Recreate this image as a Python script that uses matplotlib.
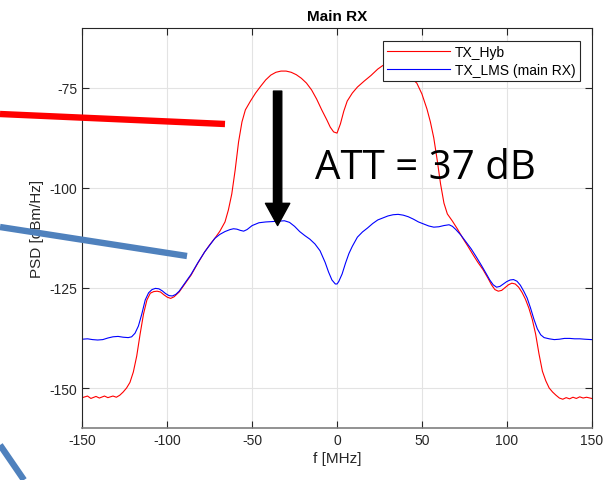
import matplotlib
matplotlib.use("Agg")
import matplotlib.pyplot as plt
from matplotlib.lines import Line2D

# PSD curves (f in MHz, PSD in dBm/Hz)
f_hyb = [-150, -147, -145, -142, -140, -137, -135, -132, -130, -128, -126, -124,
         -122, -120, -118, -116, -114, -112, -110, -108, -106, -104, -102, -100,
         -98, -96, -93, -90, -86, -82, -78, -75, -72, -69, -66, -64, -62, -60,
         -58, -56, -54, -51, -48, -45, -42, -39, -36, -33, -30, -27, -24, -21,
         -18, -15, -12, -9, -6, -4, -2, 0, 2, 4, 6, 9, 12, 16, 20, 24, 27, 30,
         33, 36, 40, 44, 47, 50, 53, 55, 57, 59, 61, 63, 65, 68, 71, 74, 77, 80,
         83, 86, 89, 91, 93, 95, 97, 99, 101, 103, 105, 107, 109, 111, 113, 115,
         117, 119, 121, 123, 125, 127, 129, 131, 133, 135, 137, 139, 141, 143,
         145, 147, 150]
psd_hyb = [-152.4, -152.0, -152.6, -152.1, -152.5, -152.0, -152.4, -152.0, -152.3,
           -151.8, -151.0, -150.0, -148.6, -146.0, -142.0, -136.5, -131.5, -128.0,
           -126.3, -125.9, -125.8, -126.0, -126.7, -127.3, -127.6, -127.2, -126.0,
           -124.2, -121.8, -118.8, -116.0, -114.2, -112.6, -110.8, -108.5, -105.5,
           -101.5, -95.5, -88.5, -83.5, -80.5, -78.3, -76.3, -74.6, -73.0, -71.8,
           -71.1, -70.8, -70.8, -71.1, -71.7, -72.6, -73.8, -75.5, -77.8, -80.5,
           -83.0, -84.8, -86.0, -86.3, -84.0, -80.8, -78.3, -76.3, -74.8, -73.3,
           -71.9, -70.3, -69.4, -69.3, -69.8, -70.6, -71.5, -72.7, -73.8, -76.5,
           -80.3, -83.5, -87.5, -93.0, -99.0, -103.8, -106.5, -108.3, -110.3,
           -112.5, -114.5, -116.6, -118.6, -120.4, -122.6, -124.2, -125.4, -125.8,
           -125.6, -124.9, -124.2, -123.8, -124.0, -124.8, -126.1, -127.8, -130.0,
           -132.8, -136.5, -141.5, -145.8, -148.2, -150.0, -151.0, -151.8, -152.5,
           -152.8, -152.4, -152.7, -152.3, -152.6, -152.2, -152.5, -152.3, -152.6]

f_lms = [-150, -147, -144, -141, -138, -135, -132, -129, -126, -123, -121, -119,
         -117, -115, -113, -111, -109, -107, -105, -103, -101, -99, -97, -95, -93,
         -90, -86, -82, -78, -75, -72, -69, -66, -63, -61, -59, -57, -55, -53,
         -50, -46, -42, -38, -34, -31, -28, -25, -22, -19, -16, -13, -10, -7, -5,
         -3, -1, 0, 1, 3, 5, 7, 9, 12, 15, 18, 21, 24, 27, 30, 33, 36, 39, 42, 45,
         48, 51, 54, 57, 60, 63, 66, 68, 70, 73, 76, 79, 82, 85, 88, 90, 92, 94,
         96, 98, 100, 102, 104, 106, 108, 110, 112, 114, 116, 118, 120, 122, 125,
         128, 131, 134, 137, 140, 143, 146, 150]
psd_lms = [-137.8, -137.7, -137.9, -138.0, -137.9, -137.5, -137.2, -137.1, -137.3,
           -137.4, -137.2, -136.3, -134.5, -131.5, -128.0, -126.2, -125.4, -125.1,
           -125.2, -125.7, -126.4, -126.9, -127.0, -126.6, -125.8, -124.0, -121.6,
           -118.7, -116.0, -114.3, -112.6, -111.6, -110.9, -110.4, -110.2, -110.3,
           -110.6, -110.8, -110.4, -109.4, -108.7, -108.5, -108.4, -108.3, -108.2,
           -108.6, -109.6, -110.9, -111.9, -112.8, -114.0, -115.7, -118.6, -121.0,
           -123.0, -124.0, -124.0, -123.4, -121.5, -118.8, -116.4, -114.6, -112.3,
           -111.0, -110.0, -108.9, -108.0, -107.5, -107.0, -106.7, -106.6, -106.8,
           -107.2, -107.8, -108.5, -109.0, -109.5, -109.8, -109.7, -109.4, -109.2,
           -109.6, -110.4, -111.8, -113.5, -115.2, -117.2, -119.3, -121.5, -123.0,
           -124.2, -124.8, -124.6, -124.0, -123.4, -123.0, -122.9, -123.3, -124.3,
           -125.8, -127.5, -130.0, -132.8, -135.2, -136.7, -137.4, -137.7, -137.9,
           -137.8, -137.6, -137.6, -137.7, -137.7, -137.8, -137.9]

x_ticks = [-150, -100, -50, 0, 50, 100, 150]
y_ticks = [-150, -125, -100, -75]

plt.rcParams['font.family'] = ['Liberation Sans', 'DejaVu Sans']
plt.rcParams['axes.unicode_minus'] = False

fig = plt.figure(figsize=(6.15, 4.81), dpi=100)
ax = fig.add_axes([0.134, 0.108, 0.828, 0.832])

ax.plot(f_hyb, psd_hyb, color='#ff0000', lw=0.8, label='TX_Hyb')
ax.plot(f_lms, psd_lms, color='#0000ff', lw=0.8, label='TX_LMS (main RX)')

ax.set_xlim(-150, 150)
ax.set_ylim(-160, -60)
ax.set_xticks(x_ticks)
ax.set_yticks(y_ticks)
ax.grid(True, color='#e3e3e3', lw=0.8)
ax.set_axisbelow(True)
ax.tick_params(direction='in', top=True, right=True, labelsize=10,
               colors='#262626', length=5, width=0.8)
for s in ax.spines.values():
    s.set_color('#262626')
    s.set_linewidth(0.8)
ax.spines['bottom'].set_color('#7f7f7f')
ax.spines['bottom'].set_linewidth(1.2)

ax.set_title('Main RX', fontsize=11, fontweight='bold', pad=6)
ax.set_xlabel('f [MHz]', fontsize=11, color='#262626', labelpad=3)
ax.set_ylabel('PSD [dBm/Hz]', fontsize=11, color='#262626', labelpad=4)

leg = ax.legend(loc='upper right', bbox_to_anchor=(0.977, 0.968),
                borderaxespad=0, fancybox=False, framealpha=1,
                edgecolor='#262626', fontsize=10, handlelength=4.5,
                handletextpad=0.4, borderpad=0.3, labelspacing=0.3)
leg.get_frame().set_linewidth(0.8)

# annotation: attenuation arrow and label
ax.annotate('', xy=(-35, -109.4), xytext=(-35, -75.8),
            arrowprops=dict(arrowstyle='simple,head_length=1.6,head_width=1.75,tail_width=0.6',
                            mutation_scale=10, color='black', shrinkA=0, shrinkB=0))
ax.text(-13, -97.6, 'ATT = 37 dB', fontsize=29, family='Open Sans',
        ha='left', va='baseline', color='black')

# pointer strokes pasted over the left side of the figure
W, H = 615.0, 481.0
def stroke(x0, y0, x1, y1, color):
    fig.add_artist(Line2D([x0 / W, x1 / W], [1 - y0 / H, 1 - y1 / H],
                          transform=fig.transFigure, color=color, lw=4.6,
                          solid_capstyle='butt', zorder=10))

stroke(0, 115, 225, 125, '#ff0000')
stroke(0, 228, 187, 257, '#4f81bd')
stroke(0, 446, 24, 481, '#4f81bd')

fig.savefig('out.png', dpi=100)
